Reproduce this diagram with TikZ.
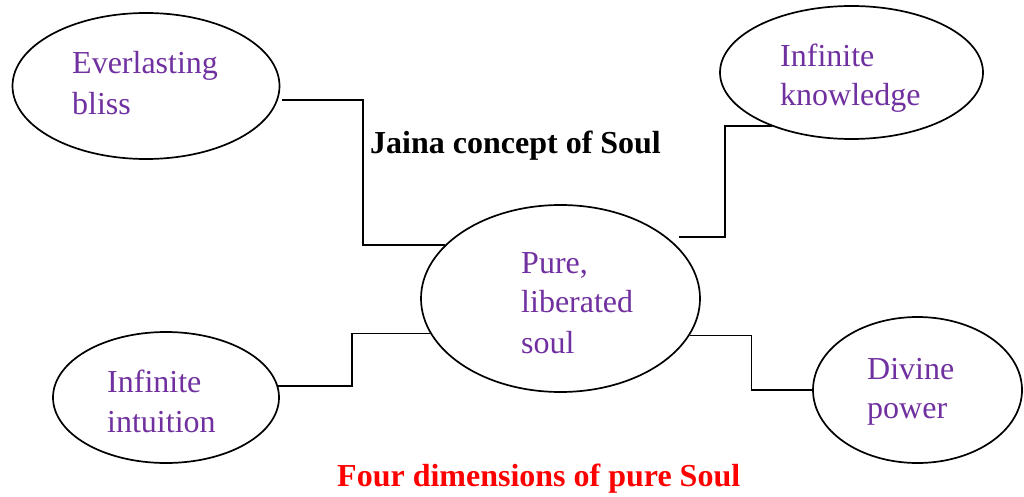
\documentclass[tikz,border=0pt]{standalone}
\usepackage{fontspec}
\setmainfont{Liberation Serif}
\usetikzlibrary{shapes.geometric}
\definecolor{txtpurple}{RGB}{112,48,160}
\definecolor{txtred}{RGB}{255,0,0}
\begin{document}
\begin{tikzpicture}[x=1pt,y=-1pt,
  bubble/.style={ellipse,draw=black,line width=1.7pt,inner sep=0pt},
  lbl/.style={anchor=base west,inner sep=0pt,text=txtpurple,font=\fontsize{32}{40}\selectfont},
  heading/.style={anchor=base west,inner sep=0pt,font=\fontsize{32}{38}\selectfont\bfseries},
  link/.style={draw=black,line width=1.7pt}]
\useasboundingbox (0,0) rectangle (1024,497);
% ellipses
\node[bubble,minimum width=267pt,minimum height=146pt] (bliss) at (146,86) {};
\node[bubble,minimum width=263pt,minimum height=133pt] (know) at (851.5,72.5) {};
\node[bubble,minimum width=279pt,minimum height=187pt] (pure) at (560.5,298.5) {};
\node[bubble,minimum width=226pt,minimum height=131pt] (intu) at (166,397.5) {};
\node[bubble,minimum width=209pt,minimum height=146pt] (div) at (917.5,390) {};
% labels
\node[lbl] (bliss1) at (72,74) {Everlasting};
\node[lbl] (bliss2) at (72,115) {bliss};
\node[lbl] (know1) at (780,67) {Infinite};
\node[lbl] (know2) at (780,106) {knowledge};
\node[lbl] (pure1) at (521,273) {Pure,};
\node[lbl] (pure2) at (521,312) {liberated};
\node[lbl] (pure3) at (521,353) {soul};
\node[lbl] (intu1) at (107,392) {Infinite};
\node[lbl] (intu2) at (107,432) {intuition};
\node[lbl] (div1) at (867,379) {Divine};
\node[lbl] (div2) at (867,418) {power};
\node[heading] (title) at (370,154) {Jaina concept of Soul};
\node[heading,text=txtred] (caption) at (337,486) {Four dimensions of pure Soul};
% connectors
\draw[link] ([xshift=4pt]bliss.-6) -- ++(81,0) |- (pure.155.6);
\draw[link] ([xshift=12pt]pure.30) -- ++(46,0) |- (know.214);
\draw[link] (pure.195) -- ++(-78,0) |- (intu.6);
\draw[link] (pure.-16) -- ++(62,0) |- (div.west);
\end{tikzpicture}
\end{document}
